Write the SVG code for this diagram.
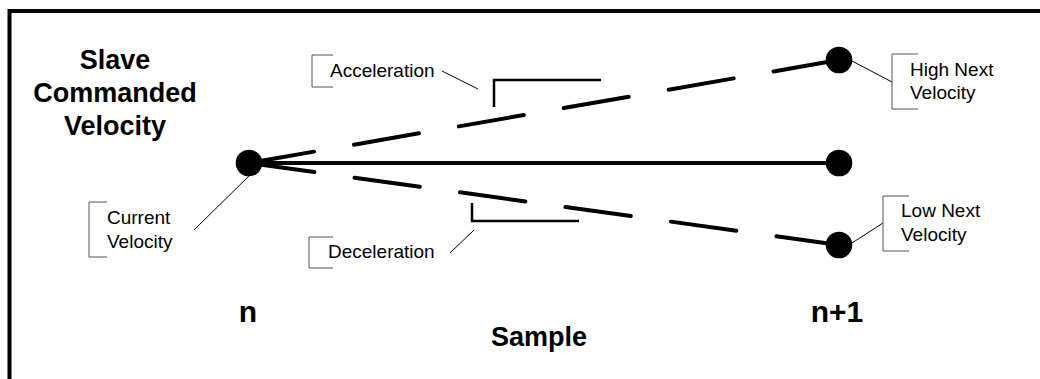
<svg xmlns="http://www.w3.org/2000/svg" width="1040" height="379" viewBox="0 0 1040 379">
<style>
.frame{fill:none;stroke:#000;stroke-width:4}
.solid{fill:none;stroke:#000;stroke-width:4}
.dash{fill:none;stroke:#000;stroke-width:4;stroke-linecap:round;stroke-dasharray:66 40.5}
.lead{fill:none;stroke:#000;stroke-width:1}
.brk{fill:none;stroke:#555;stroke-width:1}
.corner{fill:none;stroke:#000;stroke-width:2.5}
.dot{fill:#000}
.lbl{font-family:"Liberation Sans",Arial,sans-serif;font-size:19px;fill:#000}
.big{font-family:"Liberation Sans",Arial,sans-serif;font-size:27px;font-weight:bold;fill:#000;text-anchor:middle}
.idx{font-family:"Liberation Sans",Arial,sans-serif;font-size:30px;font-weight:bold;fill:#000;text-anchor:middle}
</style>
<rect x="0" y="0" width="1040" height="379" fill="#fff"/>
<path class="frame" d="M9.5,379 V11 H1040"/>
<g id="connectors">
<line class="solid" x1="249" y1="163" x2="839" y2="163"/>
<line class="dash" x1="249" y1="163" x2="839" y2="60"/>
<line class="dash" x1="249" y1="163" x2="839" y2="245"/>
<path class="corner" d="M601,80 H494 V107"/>
<path class="corner" d="M472,203 V221 H579"/>
<line class="lead" x1="442" y1="71" x2="478" y2="89"/>
<line class="lead" x1="450" y1="253" x2="474" y2="230"/>
<line class="lead" x1="254" y1="171" x2="194" y2="230"/>
<line class="lead" x1="852" y1="61" x2="892" y2="82"/>
<line class="lead" x1="852" y1="243" x2="883" y2="223"/>
</g>
<g id="current-dot"><circle class="dot" cx="249" cy="163" r="13.3"/></g>
<g id="high-dot"><circle class="dot" cx="839" cy="60" r="13.3"/></g>
<g id="mid-dot"><circle class="dot" cx="839" cy="163" r="13.3"/></g>
<g id="low-dot"><circle class="dot" cx="839" cy="245" r="13.3"/></g>
<g id="title">
<text class="big" x="115" y="69">Slave</text>
<text class="big" x="115" y="102">Commanded</text>
<text class="big" x="115" y="135">Velocity</text>
</g>
<g id="acceleration">
<path class="brk" d="M333,55 H312 V87 H333"/>
<text class="lbl" x="330" y="77">Acceleration</text>
</g>
<g id="deceleration">
<path class="brk" d="M333,237 H309 V268 H333"/>
<text class="lbl" x="328" y="258">Deceleration</text>
</g>
<g id="current-velocity">
<path class="brk" d="M107,202 H89 V257 H107"/>
<text class="lbl" x="107" y="224">Current</text>
<text class="lbl" x="107" y="248">Velocity</text>
</g>
<g id="high-next">
<path class="brk" d="M918,54 H892 V109 H918"/>
<text class="lbl" x="910" y="76">High Next</text>
<text class="lbl" x="910" y="99">Velocity</text>
</g>
<g id="low-next">
<path class="brk" d="M909,196 H883 V251 H909"/>
<text class="lbl" x="901" y="217">Low Next</text>
<text class="lbl" x="901" y="241">Velocity</text>
</g>
<g id="axis">
<text class="idx" x="248" y="322">n</text>
<text class="idx" x="837" y="322">n+1</text>
<text class="big" x="539" y="346">Sample</text>
</g>
</svg>
